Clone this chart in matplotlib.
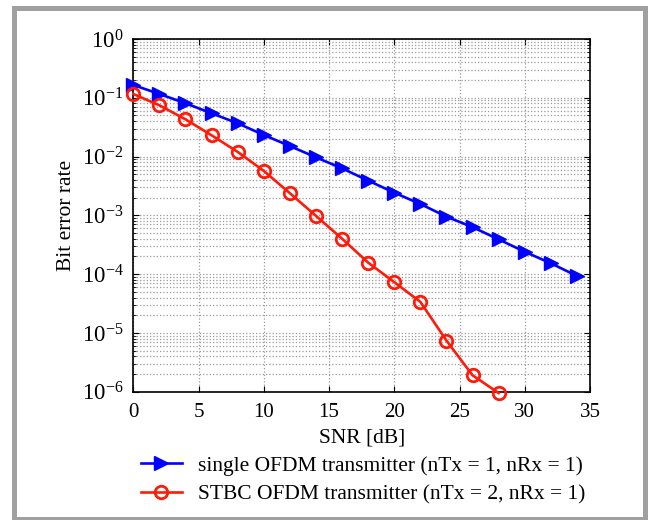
import matplotlib
matplotlib.use("Agg")
import matplotlib.pyplot as plt
from matplotlib.patches import Rectangle
from matplotlib.ticker import LogLocator, NullFormatter, MultipleLocator

plt.rcParams['font.family'] = ['Liberation Serif', 'DejaVu Serif']
plt.rcParams['mathtext.fontset'] = 'custom'
plt.rcParams['mathtext.rm'] = 'Liberation Serif'
plt.rcParams['mathtext.it'] = 'Liberation Serif:italic'
plt.rcParams['mathtext.default'] = 'regular'

snr_single = [0, 2, 4, 6, 8, 10, 12, 14, 16, 18, 20, 22, 24, 26, 28, 30, 32, 34]
ber_single = [0.165, 0.116, 0.0806, 0.0545, 0.0368, 0.0233, 0.0151, 0.0097, 0.0063,
              0.0039, 0.00243, 0.00156, 0.00095, 0.00063, 0.00039, 0.00024, 0.000153, 0.000093]
snr_stbc = [0, 2, 4, 6, 8, 10, 12, 14, 16, 18, 20, 22, 24, 26, 28]
ber_stbc = [0.116, 0.0745, 0.043, 0.023, 0.012, 0.0057, 0.00238, 0.00098, 0.0004,
            0.000157, 7.3e-5, 3.37e-5, 7.4e-6, 1.9e-6, 9.5e-7]
labels = ['single OFDM transmitter (nTx = 1, nRx = 1)',
          'STBC OFDM transmitter (nTx = 2, nRx = 1)']

fig = plt.figure(figsize=(6.48, 5.2), dpi=100)
fig.patch.set_facecolor('white')
fig.patches.append(Rectangle((13.5/648, 1-518.5/520), (645-13.5)/648, (518.5-7.5)/520,
                             transform=fig.transFigure, fill=False,
                             edgecolor='#a0a0a0', linewidth=3.6, zorder=0))

ax = fig.add_axes([133.3/648, 1-391.7/520, (590-133.3)/648, (391.7-39)/520])
ax.plot(snr_single, ber_single, color='#0000ff', lw=1.9, marker='>', ms=10,
        label=labels[0], clip_on=False, zorder=3)
ax.plot(snr_stbc, ber_stbc, color='#ff1a0a', lw=1.9, marker='o', ms=9, mew=2,
        mfc='none', label=labels[1], clip_on=False, zorder=3)

ax.set_yscale('log')
ax.set_xlim(0, 35)
ax.set_ylim(1e-6, 1)
ax.xaxis.set_major_locator(MultipleLocator(5))
ax.yaxis.set_major_locator(LogLocator(base=10, numticks=10))
ax.yaxis.set_minor_locator(LogLocator(base=10, subs=range(2, 10), numticks=100))
ax.yaxis.set_minor_formatter(NullFormatter())
ax.tick_params(which='both', direction='in', top=True, right=True)
ax.tick_params(which='major', length=4, width=0.8)
ax.tick_params(which='minor', length=2, width=0.6)
ax.tick_params(axis='x', pad=8, labelsize=15)
ax.tick_params(axis='y', pad=7, labelsize=16.5)
ax.grid(True, which='major', axis='both', linestyle=':', color='#999999', lw=0.9)
ax.grid(True, which='minor', axis='y', linestyle=':', color='#999999', lw=0.9)
for s in ax.spines.values():
    s.set_linewidth(1.2)

ax.set_xlabel('SNR [dB]', fontsize=15.5)
ax.set_ylabel('Bit error rate', fontsize=15.5)
ax.xaxis.set_label_coords(0.5, -0.105)
ax.yaxis.set_label_coords(-0.125, 0.5)

fig.legend(loc='center', bbox_to_anchor=(0.56, 1-480/520), frameon=False,
           fontsize=15.5, handlelength=1.9, handletextpad=0.75, labelspacing=0.4)

fig.savefig('out.png', dpi=100, facecolor='white')
